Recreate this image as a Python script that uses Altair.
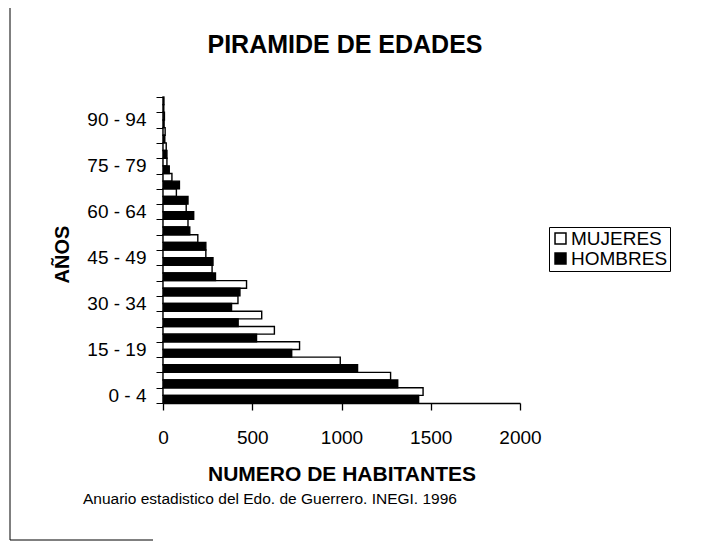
import altair as alt
import pandas as pd

ages = ["0 - 4", "5 - 9", "10 - 14", "15 - 19", "20 - 24", "25 - 29", "30 - 34",
        "35 - 39", "40 - 44", "45 - 49", "50 - 54", "55 - 59", "60 - 64", "65 - 69",
        "70 - 74", "75 - 79", "80 - 84", "85 - 89", "90 - 94", "95 - 99"]
mujeres = [1457, 1275, 993, 765, 624, 553, 420, 468, 275, 240, 195, 140, 130, 75,
           50, 22, 18, 12, 8, 5]
hombres = [1432, 1315, 1090, 721, 524, 421, 384, 431, 294, 280, 240, 150, 172, 140,
           92, 35, 22, 10, 6, 4]
series = ["MUJERES", "HOMBRES"]
label_ages = ["0 - 4", "15 - 19", "30 - 34", "45 - 49", "60 - 64", "75 - 79", "90 - 94"]
x_ticks = [0, 500, 1000, 1500, 2000]
chart_title = "PIRAMIDE DE EDADES"
source_note = "Anuario estadistico del Edo. de Guerrero. INEGI. 1996"

rows = []
for a, m, h in zip(ages, mujeres, hombres):
    rows.append({"edad": a, "sexo": "MUJERES", "valor": m})
    rows.append({"edad": a, "sexo": "HOMBRES", "valor": h})
df = pd.DataFrame(rows)

FONT = "Liberation Sans"
label_list = "[" + ",".join("'" + s + "'" for s in label_ages) + "]"

bars = alt.Chart(df).mark_bar(stroke="black", strokeWidth=1.4).encode(
    x=alt.X("valor:Q",
            scale=alt.Scale(domain=[0, 2000], nice=False, zero=True),
            axis=alt.Axis(values=x_ticks, grid=False, title="NUMERO DE HABITANTES",
                          format="d", labelFlush=False,
                          labelFontSize=19, titleFontSize=21, titleFontWeight="bold",
                          tickSize=7, labelPadding=18, titlePadding=16,
                          domainColor="black", tickColor="black", labelColor="black",
                          domainWidth=1.3, tickWidth=1.3,
                          titleColor="black", labelFont=FONT, titleFont=FONT)),
    y=alt.Y("edad:N", sort=list(reversed(ages)),
            scale=alt.Scale(paddingInner=0, paddingOuter=0),
            axis=alt.Axis(title="AÑOS", tickBand="extent",
                          labelExpr="indexof(" + label_list + ", datum.value) >= 0 ? datum.value : ''",
                          labelFontSize=19, titleFontSize=20, titleFontWeight="bold",
                          tickSize=7, labelPadding=10,
                          titleX=-101, titleY=157, titleAngle=-90,
                          titleBaseline="middle", titleAlign="center",
                          domainColor="black", tickColor="black", labelColor="black",
                          domainWidth=1.3,
                          titleColor="black", labelFont=FONT, titleFont=FONT)),
    yOffset=alt.YOffset("sexo:N", sort=series, scale=alt.Scale(paddingInner=0, paddingOuter=0)),
    color=alt.Color("sexo:N",
                    scale=alt.Scale(domain=series, range=["white", "black"]),
                    legend=alt.Legend(title=None, orient="none", legendX=386, legendY=130,
                                      symbolType="square", symbolSize=120,
                                      symbolStrokeColor="black", symbolStrokeWidth=1.5,
                                      labelFontSize=19, labelFont=FONT, labelColor="black",
                                      strokeColor="black", padding=2, rowPadding=0,
                                      labelOffset=1)),
)

title_text = alt.Chart(pd.DataFrame({"t": [chart_title]})).mark_text(
    align="center", baseline="middle", fontSize=25, fontWeight="bold", font=FONT, color="black"
).encode(text="t:N", x=alt.value(182), y=alt.value(-52))

note = alt.Chart(pd.DataFrame({"t": [source_note]})).mark_text(
    align="left", baseline="alphabetic", fontSize=15.5, font=FONT, color="black"
).encode(text="t:N", x=alt.value(-80), y=alt.value(407))

frame_left = alt.Chart(pd.DataFrame({"k": [0]})).mark_rule(color="black", strokeWidth=1).encode(
    x=alt.value(-153), y=alt.value(-92), y2=alt.value(443))
frame_bottom = alt.Chart(pd.DataFrame({"k": [0]})).mark_rule(color="black", strokeWidth=1).encode(
    x=alt.value(-153), x2=alt.value(-10), y=alt.value(443))
frame_top = alt.Chart(pd.DataFrame({"k": [0]})).mark_rule(
    color="black", strokeWidth=1, strokeDash=[5, 12]).encode(
    x=alt.value(-153), x2=alt.value(535), y=alt.value(-92))

chart = alt.layer(bars, title_text, note, frame_left, frame_bottom, frame_top).properties(
    width=357, height=306,
    padding={"left": 155, "top": 89, "right": 173, "bottom": 147},
    autosize=alt.AutoSizeParams(type="none"),
).configure(font=FONT, background="white").configure_view(strokeWidth=0, stroke="transparent")

chart.save("out.html", embed_options={"renderer": "svg", "actions": False})
